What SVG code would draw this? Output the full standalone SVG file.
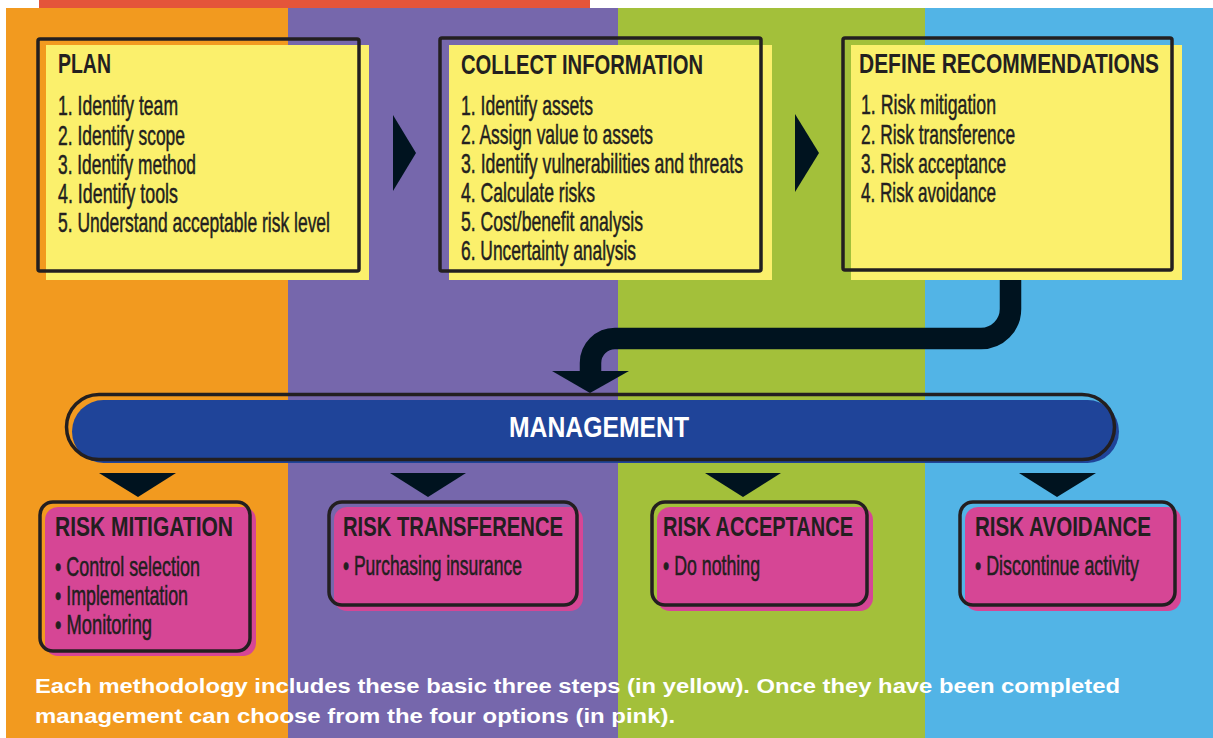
<svg xmlns="http://www.w3.org/2000/svg" width="1213" height="738" viewBox="0 0 1213 738">
  <defs>
    <style>
      .frame { fill: none; stroke: #231F20; stroke-width: 3.5; }
      .note { fill: #FBF06C; }
      .opt { fill: #D64695; }
      .tip { fill: #00131F; }
      .cond { font-family: "Liberation Sans", Arial, sans-serif; fill: #231F20; }
      .head { font-size: 27px; font-weight: bold; }
      .item { font-size: 27px; stroke: #231F20; stroke-width: 0.5; }
      .foot { font-family: "Liberation Sans", Arial, sans-serif; font-size: 21px; font-weight: bold; fill: #FFFFFF; }
    </style>
  </defs>

  <!-- background bands -->
  <rect x="0" y="0" width="1213" height="738" fill="#FFFFFF"/>
  <rect x="39" y="0" width="551" height="8" fill="#E4553A"/>
  <rect x="6" y="8" width="282" height="730" fill="#F29A1F"/>
  <rect x="288" y="8" width="330" height="730" fill="#7667AC"/>
  <rect x="618" y="8" width="307" height="730" fill="#A3C03A"/>
  <rect x="925" y="8" width="288" height="730" fill="#52B4E6"/>

  <!-- connectors -->
  <g id="connectors">
    <polygon class="tip" points="393,115 416,153 393,191"/>
    <polygon class="tip" points="795,114 819,153 795,192"/>
    <path d="M1010.5 278 V309 A29.5 29.5 0 0 1 981 338.5 H615 A24.5 24.5 0 0 0 590.5 363 V372" fill="none" stroke="#00131F" stroke-width="21.5"/>
    <polygon class="tip" points="552,371 629,371 590,393"/>
    <polygon class="tip" points="99,473 176,473 138,497"/>
    <polygon class="tip" points="390,473 466,473 428,497"/>
    <polygon class="tip" points="705,473 781,473 743,497"/>
    <polygon class="tip" points="1019,473 1096,473 1057,497"/>
  </g>

  <!-- step 1: condensed lettering via horizontal scale -->
  <g id="plan">
    <rect class="note" x="46" y="45" width="323" height="235"/>
    <rect class="frame" x="38" y="39" width="321" height="232" rx="2"/>
    <text class="cond head" transform="translate(58 73) scale(0.7 1)" textLength="75.7" lengthAdjust="spacingAndGlyphs">PLAN</text>
    <text class="cond item" transform="translate(58 115) scale(0.6 1)" textLength="200" lengthAdjust="spacingAndGlyphs">1. Identify team</text>
    <text class="cond item" transform="translate(58 144.5) scale(0.6 1)" textLength="211.7" lengthAdjust="spacingAndGlyphs">2. Identify scope</text>
    <text class="cond item" transform="translate(58 174) scale(0.6 1)" textLength="230" lengthAdjust="spacingAndGlyphs">3. Identify method</text>
    <text class="cond item" transform="translate(58 203) scale(0.6 1)" textLength="200" lengthAdjust="spacingAndGlyphs">4. Identify tools</text>
    <text class="cond item" transform="translate(58 232) scale(0.6 1)" textLength="453.3" lengthAdjust="spacingAndGlyphs">5. Understand acceptable risk level</text>
  </g>

  <!-- step 2 -->
  <g id="collect">
    <rect class="note" x="449" y="45" width="323" height="235"/>
    <rect class="frame" x="440" y="38" width="321" height="233" rx="2"/>
    <text class="cond head" transform="translate(461 74) scale(0.7 1)" textLength="345.7" lengthAdjust="spacingAndGlyphs">COLLECT INFORMATION</text>
    <text class="cond item" transform="translate(461 115) scale(0.6 1)" textLength="220" lengthAdjust="spacingAndGlyphs">1. Identify assets</text>
    <text class="cond item" transform="translate(461 144) scale(0.6 1)" textLength="320" lengthAdjust="spacingAndGlyphs">2. Assign value to assets</text>
    <text class="cond item" transform="translate(461 173) scale(0.6 1)" textLength="470" lengthAdjust="spacingAndGlyphs">3. Identify vulnerabilities and threats</text>
    <text class="cond item" transform="translate(461 202) scale(0.6 1)" textLength="223.3" lengthAdjust="spacingAndGlyphs">4. Calculate risks</text>
    <text class="cond item" transform="translate(461 231) scale(0.6 1)" textLength="303.3" lengthAdjust="spacingAndGlyphs">5. Cost/benefit analysis</text>
    <text class="cond item" transform="translate(461 260) scale(0.6 1)" textLength="291.7" lengthAdjust="spacingAndGlyphs">6. Uncertainty analysis</text>
  </g>

  <!-- step 3 -->
  <g id="define">
    <rect class="note" x="851" y="45" width="331" height="235"/>
    <rect class="frame" x="843" y="38" width="329" height="232" rx="2"/>
    <text class="cond head" transform="translate(859 73) scale(0.7 1)" textLength="428.6" lengthAdjust="spacingAndGlyphs">DEFINE RECOMMENDATIONS</text>
    <text class="cond item" transform="translate(861 114) scale(0.6 1)" textLength="225" lengthAdjust="spacingAndGlyphs">1. Risk mitigation</text>
    <text class="cond item" transform="translate(861 143.5) scale(0.6 1)" textLength="256.7" lengthAdjust="spacingAndGlyphs">2. Risk transference</text>
    <text class="cond item" transform="translate(861 173) scale(0.6 1)" textLength="241.7" lengthAdjust="spacingAndGlyphs">3. Risk acceptance</text>
    <text class="cond item" transform="translate(861 202) scale(0.6 1)" textLength="225" lengthAdjust="spacingAndGlyphs">4. Risk avoidance</text>
  </g>

  <!-- management bar -->
  <g id="management">
    <rect x="72" y="400" width="1047" height="63" rx="31.5" fill="#1F4499"/>
    <rect class="frame" x="66.5" y="394.5" width="1048" height="65" rx="32.5" stroke-width="3.2"/>
    <text transform="translate(509 437) scale(0.85 1)" textLength="211.8" lengthAdjust="spacingAndGlyphs" font-family="Liberation Sans, Arial, sans-serif" font-size="29" font-weight="bold" fill="#FFFFFF">MANAGEMENT</text>
  </g>

  <!-- options -->
  <g id="mitigation">
    <rect class="opt" x="45" y="507" width="211" height="149" rx="13"/>
    <rect class="frame" x="40" y="502" width="210" height="149" rx="13"/>
    <text class="cond head" transform="translate(55 536) scale(0.7 1)" textLength="254.3" lengthAdjust="spacingAndGlyphs">RISK MITIGATION</text>
    <text class="cond item" transform="translate(55 576) scale(0.6 1)" textLength="241.7" lengthAdjust="spacingAndGlyphs">• Control selection</text>
    <text class="cond item" transform="translate(55 605) scale(0.6 1)" textLength="221.7" lengthAdjust="spacingAndGlyphs">• Implementation</text>
    <text class="cond item" transform="translate(55 634) scale(0.6 1)" textLength="161.7" lengthAdjust="spacingAndGlyphs">• Monitoring</text>
  </g>

  <g id="transference">
    <rect class="opt" x="334" y="507" width="249" height="104" rx="13"/>
    <rect class="frame" x="329" y="502" width="248" height="103" rx="13"/>
    <text class="cond head" transform="translate(343 536) scale(0.7 1)" textLength="314.3" lengthAdjust="spacingAndGlyphs">RISK TRANSFERENCE</text>
    <text class="cond item" transform="translate(343 575) scale(0.6 1)" textLength="298.3" lengthAdjust="spacingAndGlyphs">• Purchasing insurance</text>
  </g>

  <g id="acceptance">
    <rect class="opt" x="657" y="507" width="216" height="104" rx="13"/>
    <rect class="frame" x="652" y="502" width="215" height="103" rx="13"/>
    <text class="cond head" transform="translate(663 536) scale(0.7 1)" textLength="271.4" lengthAdjust="spacingAndGlyphs">RISK ACCEPTANCE</text>
    <text class="cond item" transform="translate(663 575) scale(0.6 1)" textLength="161.7" lengthAdjust="spacingAndGlyphs">• Do nothing</text>
  </g>

  <g id="avoidance">
    <rect class="opt" x="965" y="507" width="216" height="104" rx="13"/>
    <rect class="frame" x="960" y="502" width="215" height="103" rx="13"/>
    <text class="cond head" transform="translate(975 536) scale(0.7 1)" textLength="251.4" lengthAdjust="spacingAndGlyphs">RISK AVOIDANCE</text>
    <text class="cond item" transform="translate(975 575) scale(0.6 1)" textLength="273.3" lengthAdjust="spacingAndGlyphs">• Discontinue activity</text>
  </g>

  <!-- caption -->
  <g id="caption">
    <text class="foot" transform="translate(35 693) scale(0.92 1)" textLength="1179.3" lengthAdjust="spacingAndGlyphs">Each methodology includes these basic three steps (in yellow). Once they have been completed</text>
    <text class="foot" transform="translate(35 723) scale(0.92 1)" textLength="695.7" lengthAdjust="spacingAndGlyphs">management can choose from the four options (in pink).</text>
  </g>
</svg>
